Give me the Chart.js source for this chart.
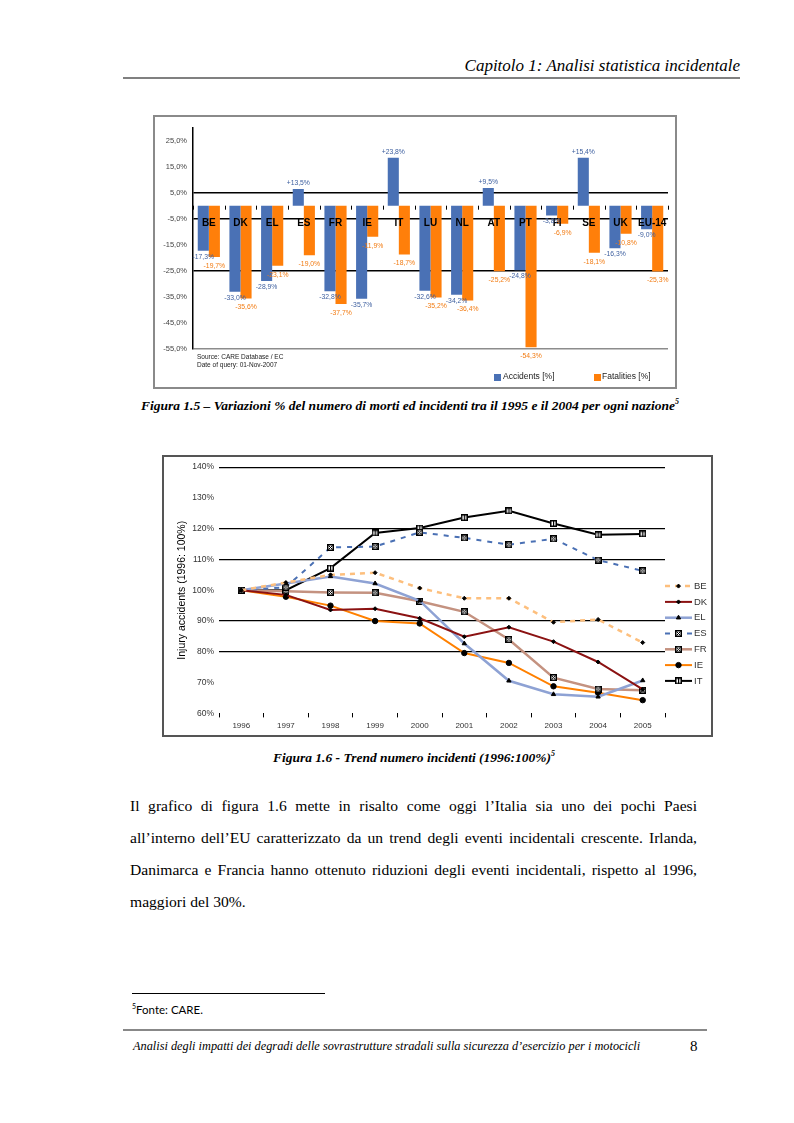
<!DOCTYPE html>
<html>
<head>
<meta charset="utf-8">
<script src="https://cdn.jsdelivr.net/npm/chart.js@4.4.0/dist/chart.umd.min.js"></script>
<style>
  body { margin: 0; background: #fff; }
  #page { position: relative; width: 794px; height: 1123px; overflow: hidden; font-family: "Liberation Serif", serif; color: #000; }
  .abs { position: absolute; }
  .cap { font-weight: bold; font-style: italic; font-size: 13.5px; text-align: center; white-space: nowrap; }
  .cap sup { font-size: 8px; }
  .para { left: 130px; top: 790px; width: 567px; font-size: 15.6px; line-height: 32px; }
  .para div { text-align: justify; text-align-last: justify; white-space: nowrap; }
  .para div.last { text-align-last: left; }
  .sans { font-family: "Liberation Sans", Arial, sans-serif; }
</style>
</head>
<body>
<div id="page">
  <div class="abs" style="right:54px; top:56px; font-style:italic; font-size:17px;">Capitolo 1: Analisi statistica incidentale</div>
  <div class="abs" style="left:123px; top:77px; width:617px; height:2px; background:#808080;"></div>

  <!-- figure 1.5 -->
  <div class="abs" style="left:153px; top:115px; width:520px; height:270px; border:2px solid #8a8a8a;"></div>
  <canvas id="barChart" class="abs" width="520" height="270" style="left:155px; top:117px;"></canvas>
  <div class="abs sans" style="left:197px; top:353px; font-size:6.5px; line-height:7.5px; color:#222;">Source: CARE Database / EC<br>Date of query: 01-Nov-2007</div>
  <div class="abs" style="left:494px; top:374px; width:7px; height:7px; background:#4a71b5;"></div>
  <div class="abs sans" style="left:503px; top:371px; font-size:8.5px; color:#222;">Accidents [%]</div>
  <div class="abs" style="left:594px; top:374px; width:7px; height:7px; background:#ff7f0a;"></div>
  <div class="abs sans" style="left:602px; top:371px; font-size:8.5px; color:#222;">Fatalities [%]</div>
  <div class="abs cap" style="left:100px; top:397px; width:620px;">Figura 1.5 – Variazioni % del numero di morti ed incidenti tra il 1995 e il 2004 per ogni nazione<sup>5</sup></div>

  <!-- figure 1.6 -->
  <div class="abs" style="left:162px; top:455px; width:547px; height:278px; border:2px solid #555;"></div>
  <canvas id="lineChart" class="abs" width="547" height="278" style="left:164px; top:457px;"></canvas>
  <div class="abs cap" style="left:104px; top:749px; width:620px;">Figura 1.6 - Trend numero incidenti (1996:100%)<sup>5</sup></div>

  <div class="abs para">
    <div>Il grafico di figura 1.6 mette in risalto come oggi l’Italia sia uno dei pochi Paesi</div>
    <div>all’interno dell’EU caratterizzato da un trend degli eventi incidentali crescente. Irlanda,</div>
    <div>Danimarca e Francia hanno ottenuto riduzioni degli eventi incidentali, rispetto al 1996,</div>
    <div class="last">maggiori del 30%.</div>
  </div>

  <div class="abs" style="left:132px; top:993px; width:193px; height:1px; background:#000;"></div>
  <div class="abs" style="left:132px; top:1002px; font-family:Lato, sans-serif; font-size:11.5px;"><sup style="font-size:7px;">5</sup>Fonte: CARE.</div>
  <div class="abs" style="left:123px; top:1029px; width:584px; height:2px; background:#888;"></div>
  <div class="abs" style="left:133px; top:1039px; font-style:italic; font-size:12.3px;">Analisi degli impatti dei degradi delle sovrastrutture stradali sulla sicurezza d’esercizio per i motocicli</div>
  <div class="abs" style="left:690px; top:1038px; font-size:15px;">8</div>
</div>

<script>
// figure 1.5 data
const countries = ['BE', 'DK', 'EL', 'ES', 'FR', 'IE', 'IT', 'LU', 'NL', 'AT', 'PT', 'FI', 'SE', 'UK', 'EU-14'];
const accidents = [-17.3, -33.0, -28.9, 6.4, -32.8, -35.7, 18.4, -32.6, -34.2, 6.8, -24.8, -3.8, 18.4, -16.3, -9.0];
const fatalities = [-19.7, -35.6, -23.1, -19.0, -37.7, -11.9, -18.7, -35.2, -36.4, -25.2, -54.3, -6.9, -18.1, -10.8, -25.3];
const accidentLabels = ['-17,3%', '-33,0%', '-28,9%', '+13,5%', '-32,8%', '-35,7%', '+23,8%', '-32,6%', '-34,2%', '+9,5%', '-24,8%', '-3,8%', '+15,4%', '-16,3%', '-9,0%'];
const fatalityLabels = ['-19,7%', '-35,6%', '-23,1%', '-19,0%', '-37,7%', '-11,9%', '-18,7%', '-35,2%', '-36,4%', '-25,2%', '-54,3%', '-6,9%', '-18,1%', '-10,8%', '-25,3%'];
const barTicks = [25, 15, 5, -5, -15, -25, -35, -45, -55];
const barGridLines = [5, -5, -25];

// figure 1.6 data
const years = ['1996', '1997', '1998', '1999', '2000', '2001', '2002', '2003', '2004', '2005'];
const be = [100, 102.5, 105, 105.7, 100.7, 97.4, 97.4, 89.6, 90.5, 83];
const dk = [100, 98.5, 93.6, 94, 90.9, 84.9, 88, 83.3, 76.7, 67.8];
const el = [100, 102.2, 104.5, 102.2, 96.6, 82.7, 70.6, 66.2, 65.4, 70.7];
const es = [100, 101, 113.9, 114.2, 118.8, 117, 114.8, 116.7, 109.8, 106.3];
const fr = [100, 99.7, 99.3, 99.2, 96.4, 93, 84, 71.6, 67.9, 67.5];
const ie = [100, 97.9, 95, 90, 89.2, 79.6, 76.4, 68.8, 66.7, 64.3];
const it = [100, 100, 107.2, 118.6, 120.2, 123.6, 125.8, 121.7, 118, 118.3];
const lineTicks = [140, 130, 120, 110, 100, 90, 80, 70, 60];
const lineGridLines = [140, 120, 110, 90, 80];

const SANS = '"Liberation Sans", Arial, sans-serif';

// labels on the bars, country names along the zero line
const barLabels = {
  id: 'barLabels',
  beforeDatasetsDraw(chart) {
    const { ctx, scales: { x, y } } = chart;
    const y0 = y.getPixelForValue(0);
    ctx.save();
    ctx.strokeStyle = '#000';
    ctx.lineWidth = 1;
    for (let i = 0; i <= countries.length; i++) {
      const px = Math.round(x.getPixelForValue(i - 0.5)) + 0.5;
      ctx.beginPath();
      ctx.moveTo(px, y0);
      ctx.lineTo(px, y0 + 4);
      ctx.stroke();
    }
    ctx.restore();
  },
  afterDatasetsDraw(chart) {
    const { ctx, scales: { x, y } } = chart;
    const y0 = y.getPixelForValue(0);
    ctx.save();
    ctx.textAlign = 'center';
    ctx.textBaseline = 'middle';
    ctx.fillStyle = '#000';
    ctx.font = 'bold 10px ' + SANS;
    countries.forEach((c, i) => ctx.fillText(c, x.getPixelForValue(i), y0 + 18));

    ctx.font = '6.8px ' + SANS;
    chart.data.datasets.forEach((ds, di) => {
      const meta = chart.getDatasetMeta(di);
      ctx.fillStyle = ds.labelColor;
      meta.data.forEach((bar, i) => {
        const v = ds.data[i];
        const yy = v >= 0 ? bar.y - 6 : bar.y + ds.labelGap;
        ctx.fillText(ds.valueLabels[i], bar.x, yy);
      });
    });
    ctx.restore();
  }
};

new Chart(document.getElementById('barChart'), {
  type: 'bar',
  data: {
    labels: countries,
    datasets: [
      { label: 'Accidents [%]', data: accidents, backgroundColor: '#4a71b5', valueLabels: accidentLabels, labelColor: '#3d5f9f', labelGap: 6 },
      { label: 'Fatalities [%]', data: fatalities, backgroundColor: '#ff7f0a', valueLabels: fatalityLabels, labelColor: '#f27b12', labelGap: 9 }
    ]
  },
  options: {
    responsive: false,
    animation: false,
    categoryPercentage: 0.7,
    barPercentage: 1.0,
    layout: { padding: { left: 0, right: 7, top: 7, bottom: 38 } },
    plugins: { legend: { display: false }, tooltip: { enabled: false } },
    scales: {
      x: { display: false },
      y: {
        min: -55,
        max: 30,
        afterBuildTicks: s => { s.ticks = barTicks.map(v => ({ value: v })); },
        afterFit: s => { s.width = 38; },
        border: { display: true, color: '#000', width: 1.5 },
        grid: {
          drawTicks: false,
          lineWidth: 1.5,
          color: c => barGridLines.includes(c.tick.value) ? '#000' : (c.tick.value === -55 ? '#8c8c8c' : 'rgba(0,0,0,0)')
        },
        ticks: {
          padding: 6,
          color: '#444',
          font: { family: SANS, size: 7.5 },
          callback: v => v.toFixed(1).replace('.', ',') + '%'
        }
      }
    }
  },
  plugins: [barLabels]
});

// marker images for the open-square series
function marker(draw) {
  const c = document.createElement('canvas');
  c.width = 7;
  c.height = 7;
  draw(c.getContext('2d'));
  return c;
}
const boxX = marker(g => {
  g.fillStyle = '#000';
  g.fillRect(0, 0, 7, 7);
  g.fillStyle = '#fff';
  g.fillRect(1.5, 1.5, 4, 4);
  g.strokeStyle = '#000';
  g.lineWidth = 1;
  g.beginPath();
  g.moveTo(1.5, 1.5); g.lineTo(5.5, 5.5);
  g.moveTo(5.5, 1.5); g.lineTo(1.5, 5.5);
  g.stroke();
});
const boxI = marker(g => {
  g.fillStyle = '#000';
  g.fillRect(0, 0, 7, 7);
  g.fillStyle = '#fff';
  g.fillRect(1.5, 1.5, 4, 4);
  g.fillStyle = '#000';
  g.fillRect(3, 1, 1.2, 5);
});

// legend with line samples at the right of the plot
const lineLegend = {
  id: 'lineLegend',
  afterDraw(chart) {
    const { ctx, chartArea } = chart;
    const x0 = chartArea.right, x1 = x0 + 27;
    chart.data.datasets.forEach((ds, i) => {
      const yy = chartArea.top + 119 + i * 15.8;
      ctx.save();
      ctx.strokeStyle = ds.borderColor;
      ctx.lineWidth = ds.borderWidth;
      ctx.setLineDash(ds.borderDash || []);
      ctx.beginPath();
      ctx.moveTo(x0, yy);
      ctx.lineTo(x1, yy);
      ctx.stroke();
      ctx.setLineDash([]);
      ctx.fillStyle = '#000';
      ctx.strokeStyle = '#000';
      ctx.lineWidth = 1;
      Chart.helpers.drawPoint(ctx, { pointStyle: ds.pointStyle, radius: ds.pointRadius, rotation: 0, borderWidth: 1 }, (x0 + x1) / 2, yy);
      ctx.fillStyle = '#333';
      ctx.font = '9.5px ' + SANS;
      ctx.textBaseline = 'middle';
      ctx.fillText(ds.label, x1 + 2, yy);
      ctx.restore();
    });
  }
};

const pt = { pointBackgroundColor: '#000', pointBorderColor: '#000', pointBorderWidth: 1 };

new Chart(document.getElementById('lineChart'), {
  type: 'line',
  data: {
    labels: years,
    datasets: [
      { label: 'BE', data: be, borderColor: '#fdbf7d', borderWidth: 2.5, borderDash: [5, 5], pointStyle: 'rectRot', pointRadius: 2, ...pt },
      { label: 'DK', data: dk, borderColor: '#8b1212', borderWidth: 2, pointStyle: 'rectRot', pointRadius: 2, ...pt },
      { label: 'EL', data: el, borderColor: '#8ea2d4', borderWidth: 2.5, pointStyle: 'triangle', pointRadius: 2.5, ...pt },
      { label: 'ES', data: es, borderColor: '#4a70b4', borderWidth: 2, borderDash: [5, 6], pointStyle: boxX, pointRadius: 3.5, ...pt },
      { label: 'FR', data: fr, borderColor: '#c49280', borderWidth: 2.5, pointStyle: boxX, pointRadius: 3.5, ...pt },
      { label: 'IE', data: ie, borderColor: '#ff8000', borderWidth: 2, pointStyle: 'circle', pointRadius: 2.7, ...pt },
      { label: 'IT', data: it, borderColor: '#000', borderWidth: 2, pointStyle: boxI, pointRadius: 3.5, ...pt }
    ]
  },
  options: {
    responsive: false,
    animation: false,
    elements: { line: { tension: 0 } },
    layout: { padding: { left: 0, right: 46, top: 6, bottom: 0 } },
    plugins: { legend: { display: false }, tooltip: { enabled: false } },
    scales: {
      x: {
        offset: true,
        border: { display: false },
        grid: { offset: true, drawOnChartArea: false, tickLength: 4, color: '#000' },
        ticks: { color: '#333', font: { family: SANS, size: 8 }, padding: 4, maxRotation: 0 }
      },
      y: {
        min: 60,
        max: 140,
        afterBuildTicks: s => { s.ticks = lineTicks.map(v => ({ value: v })); },
        afterFit: s => { s.width = 55; },
        border: { display: false },
        grid: {
          drawTicks: false,
          lineWidth: 1.2,
          color: c => lineGridLines.includes(c.tick.value) ? '#000' : 'rgba(0,0,0,0)'
        },
        ticks: { padding: 5, color: '#333', font: { family: SANS, size: 8.5 }, callback: v => v + '%' },
        title: { display: true, text: 'Injury accidents (1996: 100%)', color: '#000', font: { family: SANS, size: 10.5 }, padding: { top: 12, bottom: 0 } }
      }
    }
  },
  plugins: [lineLegend]
});
</script>
</body>
</html>
